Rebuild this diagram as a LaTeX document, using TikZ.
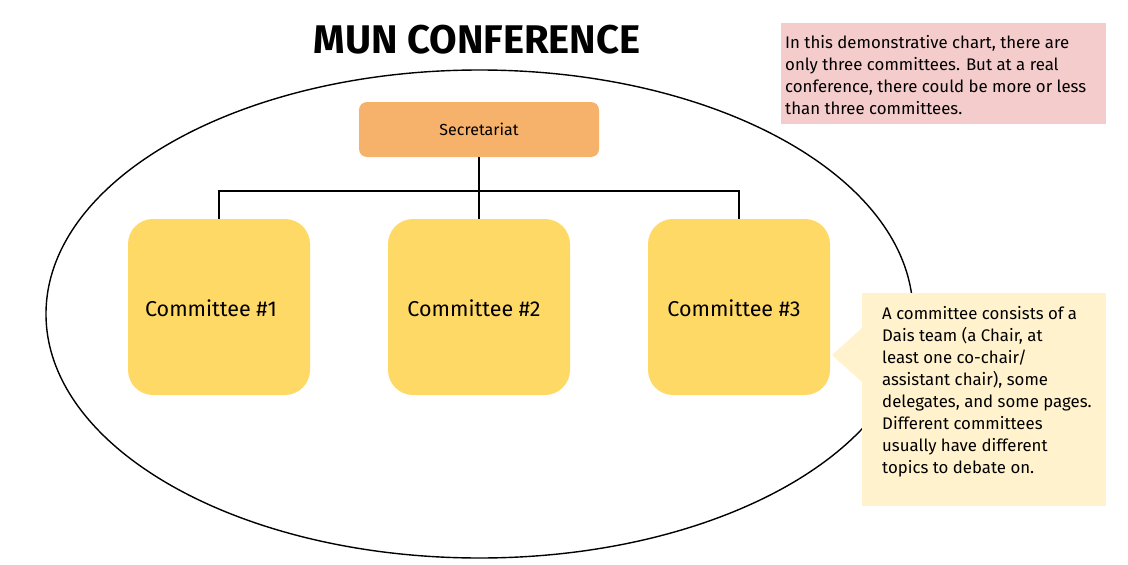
\documentclass[tikz,border=0pt]{standalone}
\usepackage{fontspec}
\setmainfont{Fira Sans}
\definecolor{secfill}{HTML}{F6B26B}
\definecolor{comfill}{HTML}{FFD966}
\definecolor{pinkfill}{HTML}{F4CCCC}
\definecolor{notefill}{HTML}{FFF2CC}
\tikzset{
  secbox/.style={fill=secfill, rounded corners=8pt, minimum width=240pt, minimum height=55pt, inner sep=0pt, font=\fontsize{16}{18}\selectfont},
  combox/.style={fill=comfill, rounded corners=25pt, minimum width=182pt, minimum height=176pt, inner sep=0pt},
  comtext/.style={font=\fontsize{21.5}{24}\selectfont, inner sep=0pt},
  wire/.style={draw=black, line width=1.3pt},
  notetext/.style={font=\fontsize{16.8}{22}\selectfont, align=left, inner sep=0pt, anchor=north west},
  ynotetext/.style={font=\fontsize{16.8}{22}\selectfont, align=left, inner sep=0pt, anchor=north west},
}
\begin{document}
\begin{tikzpicture}[x=1pt,y=-1pt]
\useasboundingbox (0,0) rectangle (1128,565);
% title
\node[font=\fontsize{40}{44}\selectfont\bfseries, inner sep=0pt] (title) at (477,40) {MUN CONFERENCE};
% ellipse
\draw[line width=1.4pt] (479.5,314) ellipse [x radius=433.5, y radius=244];
% secretariat
\node[secbox] (sec) at (479,129.5) {Secretariat};
% committees
\node[combox] (c1) at (219,307) {};
\node[combox] (c2) at (479,307) {};
\node[combox] (c3) at (739,307) {};
\node[comtext] (t1) at (211,308) {Committee \#1};
\node[comtext] (t2) at (474,308) {Committee \#2};
\node[comtext] (t3) at (734,308) {Committee \#3};
% connectors
\coordinate (hl) at (219,191);
\coordinate (hr) at (739,191);
\draw[wire] (sec.south) -- (c2.north);
\draw[wire] (c1.north) -- (hl) -- (hr) -- (c3.north);
% pink note
\node[fill=pinkfill, minimum width=325pt, minimum height=101pt, inner sep=0pt, anchor=north west] (pink) at (781,23) {};
\node[notetext] (pinktext) at (785,35) {In this demonstrative chart, there are\\only three committees. But at a real\\conference, there could be more or less\\than three committees.};
% yellow note with pointer
\node[fill=notefill, minimum width=244pt, minimum height=213pt, inner sep=0pt, anchor=north west] (note) at (862,293) {};
\coordinate (tip) at (832,355);
\fill[notefill] (tip) -- (862,328) -- (862,382) -- cycle;
\node[ynotetext] (notetext) at (882,306) {A committee consists of a\\Dais team (a Chair, at\\least one co-chair/\\assistant chair), some\\delegates, and some pages.\\Different committees\\usually have different\\topics to debate on.};
\end{tikzpicture}
\end{document}
